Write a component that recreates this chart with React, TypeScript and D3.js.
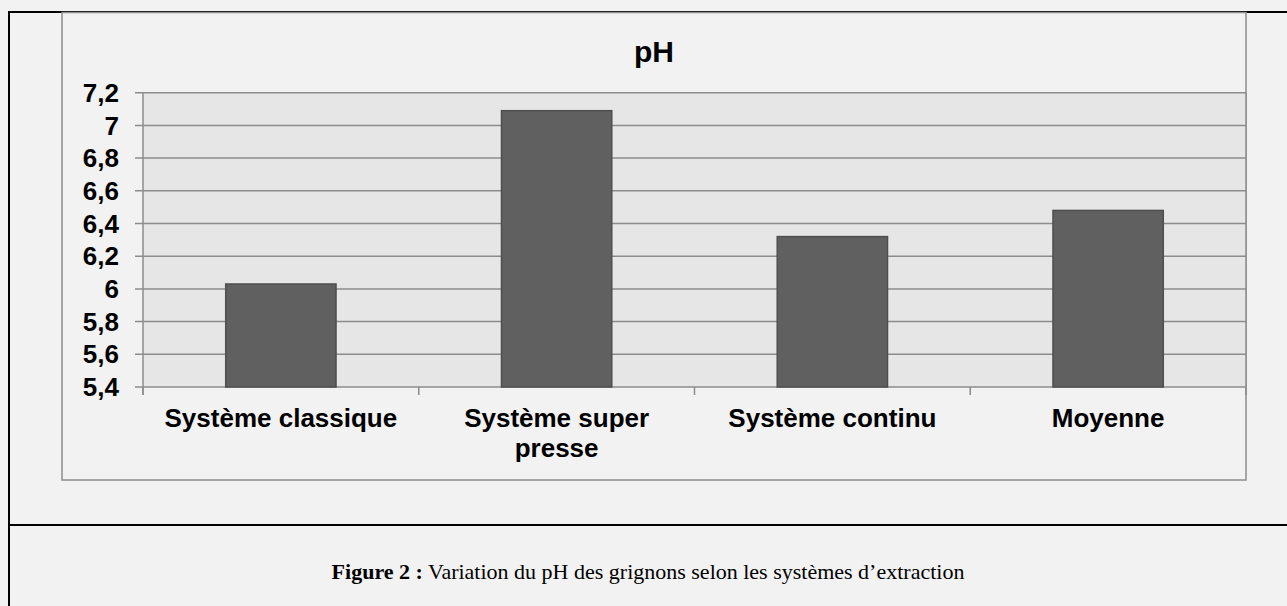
import { useMemo } from "react";
import * as d3 from "d3";

const categories = [["Système classique"], ["Système super", "presse"], ["Système continu"], ["Moyenne"]];
const phValues = [6.03, 7.09, 6.32, 6.48];
const yTicks = [5.4, 5.6, 5.8, 6, 6.2, 6.4, 6.6, 6.8, 7, 7.2];
const chartTitle = "pH";
const captionBold = "Figure 2 :";
const captionText = " Variation du pH des grignons selon les systèmes d’extraction";

const W = 1287;
const H = 606;

export default function App() {
  // plot area inside the Excel-like chart box
  const plot = { left: 143, right: 1246, top: 92.7, bottom: 387 };
  const box = { left: 62, right: 1246, top: 12.5, bottom: 480 };

  const keys = categories.map((c) => c.join(" "));
  const x = useMemo(
    () =>
      d3
        .scaleBand<string>()
        .domain(keys)
        .range([plot.left, plot.right])
        .paddingInner(0.6)
        .paddingOuter(0.3),
    [],
  );
  const y = useMemo(() => d3.scaleLinear().domain([5.4, 7.2]).range([plot.bottom, plot.top]), []);

  const fmt = (v: number) => String(+v.toFixed(1)).replace(".", ",");
  const step = x.step();
  const bounds = d3.range(keys.length + 1).map((i) => plot.left + i * step);

  const font = "'Liberation Sans', Arial, sans-serif";

  return (
    <div style={{ position: "absolute", left: 0, top: 0 }}>
      <svg width={W} height={H} style={{ display: "block" }}>
        <rect x={0} y={0} width={W} height={H} fill="#f2f2f2" />

        {/* outer frame of the figure */}
        <line x1={9} x2={W} y1={12} y2={12} stroke="#000" strokeWidth={2} />
        <line x1={9} x2={9} y1={11} y2={H} stroke="#000" strokeWidth={2} />
        <line x1={9} x2={W} y1={525} y2={525} stroke="#000" strokeWidth={2} />

        {/* chart box */}
        <rect
          x={box.left}
          y={box.top}
          width={box.right - box.left}
          height={box.bottom - box.top}
          fill="#f2f2f2"
          stroke="#8c8c8c"
          strokeWidth={1.5}
        />

        <text
          x={(box.left + box.right) / 2}
          y={62}
          textAnchor="middle"
          fontFamily={font}
          fontWeight="bold"
          fontSize={30}
          fill="#000"
        >
          {chartTitle}
        </text>

        {/* plot area */}
        <rect
          x={plot.left}
          y={plot.top}
          width={plot.right - plot.left}
          height={plot.bottom - plot.top}
          fill="#e6e6e6"
        />
        {yTicks.map((t) => (
          <line
            key={`g-${t}`}
            x1={plot.left - 8}
            x2={plot.right}
            y1={y(t)}
            y2={y(t)}
            stroke="#8c8c8c"
            strokeWidth={1.5}
          />
        ))}
        <line x1={plot.left} x2={plot.left} y1={plot.top} y2={plot.bottom + 8} stroke="#8c8c8c" strokeWidth={1.5} />
        <line x1={plot.right} x2={plot.right} y1={plot.top} y2={plot.bottom} stroke="#8c8c8c" strokeWidth={1.5} />
        {bounds.map((b, i) => (
          <line key={`xt-${i}`} x1={b} x2={b} y1={plot.bottom} y2={plot.bottom + 8} stroke="#8c8c8c" strokeWidth={1.5} />
        ))}

        {/* bars */}
        {phValues.map((v, i) => (
          <rect
            key={`b-${i}`}
            x={x(keys[i])!}
            y={y(v)}
            width={x.bandwidth()}
            height={y(5.4) - y(v)}
            fill="#606060"
            stroke="#4f4f4f"
            strokeWidth={1.5}
          />
        ))}

        {/* y labels */}
        {yTicks.map((t) => (
          <text
            key={`yl-${t}`}
            x={119}
            y={y(t)}
            dy="0.35em"
            textAnchor="end"
            fontFamily={font}
            fontWeight="bold"
            fontSize={26}
            fill="#000"
          >
            {fmt(t)}
          </text>
        ))}

        {/* category labels */}
        {categories.map((lines, i) => (
          <text
            key={`c-${i}`}
            x={x(keys[i])! + x.bandwidth() / 2}
            y={427}
            textAnchor="middle"
            fontFamily={font}
            fontWeight="bold"
            fontSize={26}
            fill="#000"
          >
            {lines.map((l, j) => (
              <tspan key={j} x={x(keys[i])! + x.bandwidth() / 2} dy={j === 0 ? 0 : 30}>
                {l}
              </tspan>
            ))}
          </text>
        ))}

        {/* caption */}
        <text
          x={(9 + W) / 2}
          y={579}
          textAnchor="middle"
          fontFamily="'Liberation Serif', 'Times New Roman', serif"
          fontSize={22}
          fill="#000"
        >
          <tspan fontWeight="bold">{captionBold}</tspan>
          <tspan>{captionText}</tspan>
        </text>
      </svg>
    </div>
  );
}
